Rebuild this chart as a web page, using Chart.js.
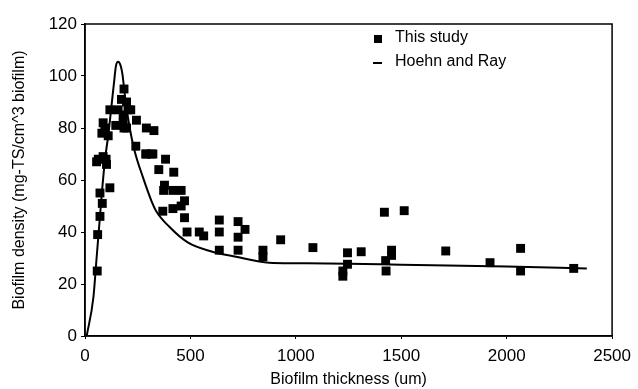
<!DOCTYPE html>
<html>
<head>
<meta charset="utf-8">
<script src="https://cdn.jsdelivr.net/npm/chart.js@4/dist/chart.umd.min.js"></script>
<style>
  html, body { margin: 0; padding: 0; background: #fff; }
  #wrap { width: 638px; height: 389px; }
</style>
</head>
<body>
<div id="wrap"><canvas id="densityChart"></canvas></div>
<script>
// measured points (thickness um, density mg-TS/cm^3)
const studyX = [58, 60, 71, 82, 71, 118, 63, 55, 86, 102, 100, 86, 94, 80, 110, 118, 146, 157, 173, 181,
  185, 197, 185, 197, 204, 217, 181, 244, 241, 291, 327, 291, 315, 288, 322, 382, 350, 421, 377, 373,
  417, 456, 472, 456, 417, 369, 472, 484, 542, 563, 637, 637, 637, 726, 759, 726, 726, 844, 844, 928,
  1081, 1245, 1310, 1245, 1223, 1223, 1420, 1514, 1454, 1454, 1426, 1428, 1711, 1921, 2066, 2066, 2318];
const studyY = [25, 39, 46, 51, 55, 57, 68, 67, 69, 66, 68, 82, 80, 78, 77, 87, 81, 87, 91, 85,
  95, 90, 80, 80, 87, 87, 82, 83, 73, 80, 79, 70, 70, 70, 70, 68, 64, 63, 58, 56,
  56, 56, 52, 50, 49, 48, 45.5, 40, 40, 38.5, 44.6, 40, 33, 44, 41, 38, 33, 33, 30.5, 37,
  34, 32, 32.4, 27.6, 25, 23, 47.6, 48.2, 33, 31, 29, 25, 32.7, 28.2, 33.7, 25, 26];

// Hoehn and Ray curve
const modelX = [8, 40, 55, 70, 80, 95, 110, 125, 137, 147, 157, 167, 177, 190, 212, 236, 275, 315, 338,
  400, 487, 600, 716, 873, 1000, 1250, 1500, 2000, 2380];
const modelY = [0, 15, 30, 45, 55, 68, 77, 88, 97, 104, 105.5, 104.5, 101, 92, 80, 71, 61, 52, 48,
  42, 36, 32.5, 30.5, 28.2, 28, 27.8, 27.4, 26.7, 26];

const xTicks = [0, 500, 1000, 1500, 2000, 2500];
const yTicks = [0, 20, 40, 60, 80, 100, 120];

const study = studyX.map((x, i) => ({ x: x, y: studyY[i] }));
const model = modelX.map((x, i) => ({ x: x, y: modelY[i] }));

const FONT = 'Liberation Sans, Arial, sans-serif';

// draws the frame and the legend inside the plot
const frameAndLegend = {
  id: 'frameAndLegend',
  afterDraw(chart) {
    const ctx = chart.ctx;
    const a = chart.chartArea;
    ctx.save();
    ctx.strokeStyle = '#000';
    ctx.lineWidth = 1.5;
    ctx.strokeRect(a.left, a.top, a.right - a.left, a.bottom - a.top);

    ctx.fillStyle = '#000';
    ctx.font = '16px ' + FONT;
    ctx.textBaseline = 'middle';
    const lx = a.left + 293, ly = a.top + 14;
    ctx.fillRect(lx - 4, ly - 3, 8, 8);
    ctx.fillText(chart.data.datasets[0].label, lx + 17, ly);
    ctx.lineWidth = 2;
    ctx.beginPath();
    ctx.moveTo(lx - 5, ly + 25);
    ctx.lineTo(lx + 4, ly + 25);
    ctx.stroke();
    ctx.fillText(chart.data.datasets[1].label, lx + 17, ly + 24);
    ctx.restore();
  }
};

new Chart(document.getElementById('densityChart').getContext('2d'), {
  type: 'scatter',
  data: {
    datasets: [{
      label: 'This study',
      data: study,
      pointStyle: 'rect',
      pointRadius: 6.3,
      backgroundColor: '#000',
      borderColor: '#000',
      borderWidth: 0
    }, {
      label: 'Hoehn and Ray',
      type: 'line',
      data: model,
      showLine: true,
      borderColor: '#000',
      borderWidth: 2,
      pointRadius: 0,
      cubicInterpolationMode: 'monotone',
      fill: false
    }]
  },
  options: {
    responsive: true,
    maintainAspectRatio: false,
    animation: false,
    layout: { padding: { top: 24, right: 21, left: 10, bottom: 0 } },
    plugins: { legend: { display: false }, tooltip: { enabled: false } },
    scales: {
      x: {
        type: 'linear',
        min: 0, max: 2500,
        afterBuildTicks: s => { s.ticks = xTicks.map(v => ({ value: v })); },
        afterFit: s => { s.height = 53; },
        grid: { display: true, drawOnChartArea: false, drawTicks: true, tickLength: 3, color: '#000' },
        border: { display: true, color: '#000', width: 1.5 },
        ticks: { color: '#000', font: { family: FONT, size: 17 }, padding: 7, maxRotation: 0, callback: v => String(v) },
        title: { display: true, text: 'Biofilm thickness (um)', color: '#000', font: { family: FONT, size: 16 }, padding: { top: 0, bottom: 0 } }
      },
      y: {
        type: 'linear',
        min: 0, max: 120,
        afterBuildTicks: s => { s.ticks = yTicks.map(v => ({ value: v })); },
        afterFit: s => { s.width = 75; },
        grid: { display: true, drawOnChartArea: false, drawTicks: true, tickLength: 4, color: '#000' },
        border: { display: true, color: '#000', width: 1.5 },
        ticks: { color: '#000', font: { family: FONT, size: 17 }, padding: 4, callback: v => String(v) },
        title: { display: true, text: 'Biofilm density (mg-TS/cm^3 biofilm)', color: '#000', font: { family: FONT, size: 16 }, padding: { top: 0, bottom: 0 } }
      }
    }
  },
  plugins: [frameAndLegend]
});
</script>
</body>
</html>
